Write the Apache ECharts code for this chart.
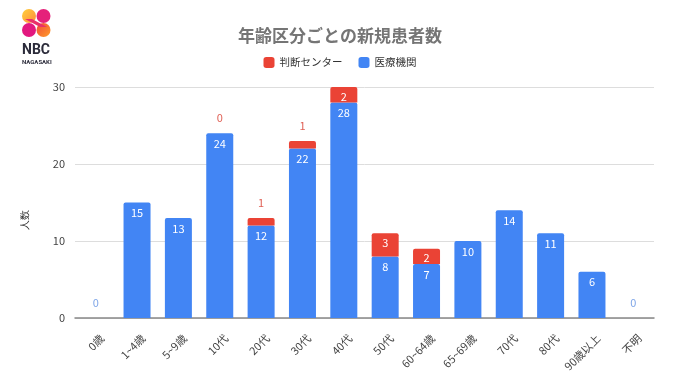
<!DOCTYPE html>
<html><head><meta charset="utf-8">
<script src="https://cdn.jsdelivr.net/npm/echarts@6/dist/echarts.min.js"></script>
<style>html,body{margin:0;padding:0;background:#fff}#c{width:680px;height:382px}</style>
</head><body><div id="c"></div>
<script>
const categories = ['0歳','1~4歳','5~9歳','10代','20代','30代','40代','50代','60~64歳','65~69歳','70代','80代','90歳以上','不明'];
const hospital = [0,15,13,24,12,22,28,8,7,10,14,11,6,0];
const center = [null,null,null,0,1,1,2,3,2,null,null,null,null,null];
const yTicks = {min:0, max:30, interval:10};

const F = '"Noto Sans CJK JP","Noto Sans",Roboto,sans-serif';
const chart = echarts.init(document.getElementById('c'), null, {renderer:'canvas'});

const blueData = hospital.map(v => v === 0
  ? {value:v, label:{position:'top', distance:10, color:'#7fa6e8'}}
  : v);
const redData = center.map((v,i) => {
  if (v === null) return null;
  const inside = v >= 2;
  return {value:v, label: inside
    ? {position:'insideTop', distance:4, color:'#fff'}
    : {position:'top', distance:10, color:'#e06055'}};
});

chart.setOption({
  animation:false,
  textStyle:{fontFamily:F},
  title:{text:'年齢区分ごとの新規患者数', left:'center', top:22,
    textStyle:{fontSize:17, fontWeight:'bold', color:'#757575', fontFamily:F}},
  legend:{data:['判断センター','医療機関'], top:52, left:'center', itemWidth:11, itemHeight:11,
    itemGap:16, icon:'roundRect', textStyle:{fontSize:10.5, color:'#333', fontFamily:F}},
  grid:{left:75, right:26, top:87, bottom:64},
  xAxis:{type:'category', data:categories,
    axisLine:{lineStyle:{color:'#888', width:1.5}}, axisTick:{show:false},
    axisLabel:{rotate:45, fontSize:11, color:'#444', margin:12, interval:0, fontFamily:F,
      verticalAlign:'top', lineHeight:18}},
  yAxis:{type:'value', min:yTicks.min, max:yTicks.max, interval:yTicks.interval,
    axisLine:{show:false}, axisTick:{show:false},
    axisLabel:{fontSize:11, color:'#444', margin:10},
    splitLine:{lineStyle:{color:'#dddddd'}}},
  graphic:[
    {type:'text', left:20, top:210, rotation:Math.PI/2, style:{text:'人数', fontSize:10, fill:'#333', font:'10px '+F}},
    {type:'circle', shape:{cx:29,cy:16,r:7}, style:{fill:{type:'linear',x:0,y:0,x2:1,y2:1,colorStops:[{offset:0,color:'#ffd23c'},{offset:1,color:'#ff8a3c'}]}}},
    {type:'circle', shape:{cx:43.5,cy:16,r:7}, style:{fill:'#e5217a'}},
    {type:'circle', shape:{cx:29,cy:30,r:7}, style:{fill:'#e2187f'}},
    {type:'circle', shape:{cx:43.5,cy:30,r:7}, style:{fill:{type:'linear',x:0,y:0,x2:1,y2:1,colorStops:[{offset:0,color:'#f04a3a'},{offset:1,color:'#ff9d2a'}]}}},
    {type:'polygon', shape:{points:[[25,19],[32,19],[47,27],[40,27]]}, style:{fill:'#ea2f6a'}},
    {type:'text', left:22, top:43, style:{text:'NBC', font:'bold 14px Roboto,sans-serif', fill:'#2b2b3a'}},
    {type:'text', left:22, top:59, style:{text:'NAGASAKI', font:'bold 6px Roboto,sans-serif', fill:'#2b2b3a'}}
  ],
  series:[
    {name:'医療機関', type:'bar', stack:'a', data:blueData, barWidth:27,
      itemStyle:{color:'#4285f4', borderRadius:[2,2,0,0]},
      label:{show:true, position:'insideTop', distance:5, color:'#fff', fontSize:11, fontFamily:F}},
    {name:'判断センター', type:'bar', stack:'a', data:redData, barWidth:27,
      itemStyle:{color:'#ea4335', borderRadius:[2,2,0,0]},
      label:{show:true, position:'insideTop', color:'#fff', fontSize:11, fontFamily:F}}
  ]
});
</script></body></html>
